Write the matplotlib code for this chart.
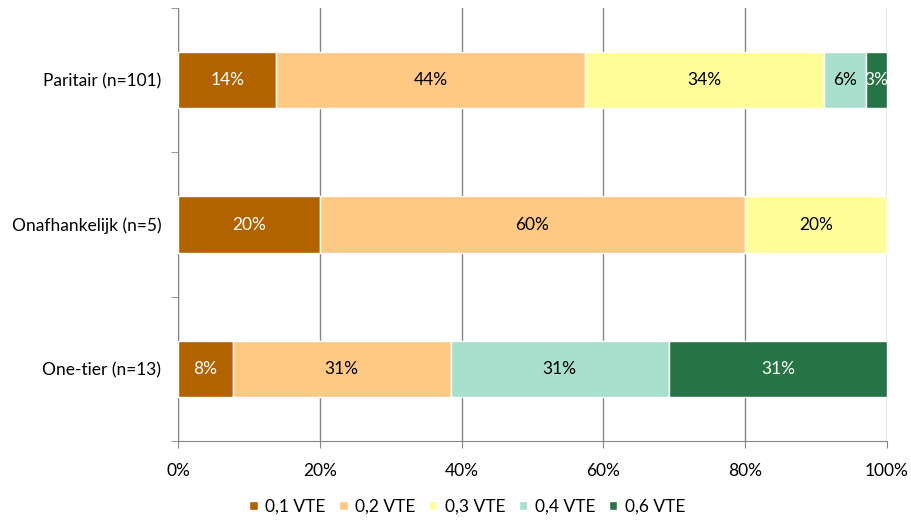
import matplotlib.pyplot as plt
import numpy as np

plt.rcParams['font.family'] = ['Lato', 'DejaVu Sans']

# Aantallen per groep, per VTE-klasse
groups = ["Paritair (n=101)", "Onafhankelijk (n=5)", "One-tier (n=13)"]
group_n = [101, 5, 13]
vte_labels = ["0,1 VTE", "0,2 VTE", "0,3 VTE", "0,4 VTE", "0,6 VTE"]
counts = [
    [14, 44, 34, 6, 3],   # Paritair
    [1, 3, 1, 0, 0],      # Onafhankelijk
    [1, 4, 0, 4, 4],      # One-tier
]
colors = ["#B36200", "#FFC883", "#FFFD99", "#A7E0CC", "#267446"]
text_colors = ["white", "black", "black", "black", "white"]

pct = np.array(counts, dtype=float) / np.array(group_n)[:, None] * 100

fs = 12.5
fig = plt.figure(figsize=(9.12, 5.2), dpi=100)
ax = fig.add_axes([178 / 912, 1 - 441 / 520, 709 / 912, 433 / 520])

y = np.arange(len(groups))
left = np.zeros(len(groups))
for k, lab in enumerate(vte_labels):
    vals = pct[:, k]
    ax.barh(y, vals, left=left, height=0.39, color=colors[k],
            edgecolor="white", linewidth=1.0, label=lab, zorder=3)
    for i, v in enumerate(vals):
        if v > 0:
            ax.text(left[i] + v / 2, y[i], f"{v:.0f}%", ha="center", va="center",
                    color=text_colors[k], fontsize=fs, zorder=4)
    left += vals

ax.set_xlim(0, 100)
ax.set_ylim(2.5, -0.5)
ax.set_xticks(np.arange(0, 101, 20))
ax.set_xticklabels([f"{t}%" for t in range(0, 101, 20)], fontsize=fs)
ax.set_yticks(y)
ax.set_yticklabels(groups, fontsize=fs)
ax.set_yticks([-0.5, 0.5, 1.5, 2.5], minor=True)
ax.tick_params(axis="y", which="major", length=0, pad=12)
ax.tick_params(axis="y", which="minor", length=5, color="#868686")
ax.tick_params(axis="x", length=5, color="#868686", pad=11)

ax.grid(axis="x", color="#868686", linewidth=1.0, zorder=0)
for side in ["top", "right"]:
    ax.spines[side].set_visible(False)
for side in ["left", "bottom"]:
    ax.spines[side].set_color("#868686")

ax.legend(loc="upper center", bbox_to_anchor=(0.408, -0.097), ncol=5, frameon=False,
          fontsize=fs, handlelength=0.5, handleheight=0.5, handletextpad=0.45,
          columnspacing=0.75)

fig.savefig("out.png", dpi=100)
